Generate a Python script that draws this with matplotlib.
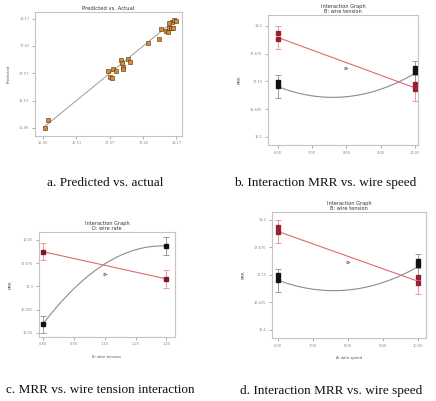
import numpy as np
import matplotlib
matplotlib.use("Agg")
import matplotlib.pyplot as plt

# a. predicted vs actual
actual = [15.98, 16.04, 17.04, 17.11, 17.16, 17.07, 17.10, 17.25, 17.27, 17.28, 17.29,
          17.37, 17.40, 17.70, 17.88, 17.91, 18.00, 18.03, 18.05, 18.08, 18.10, 18.13,
          18.17, 18.11, 18.04]
predicted = [15.96, 16.11, 17.11, 17.16, 17.12, 16.98, 16.97, 17.34, 17.28, 17.20, 17.15,
             17.36, 17.30, 17.67, 17.76, 17.96, 17.93, 17.91, 17.98, 17.99, 18.11, 18.15,
             18.13, 17.99, 18.08]
pa_ticks = [15.96, 16.51, 17.07, 17.62, 18.17]

# b / d. interaction, wire speed
speed_levels = [6.0, 8.0, 10.0]
speed_red_fit = [17.98, 17.51, 17.03]
speed_red_err = [0.22, 0.0, 0.25]
speed_red_pts_x = [6.0, 6.0, 10.0, 10.0]
speed_red_pts_y = [18.06, 17.96, 17.10, 17.00]
speed_blk_fit = [17.05, 16.86, 17.30]
speed_blk_err = [0.22, 0.0, 0.24]
speed_blk_pts_x = [6.0, 6.0, 10.0, 10.0]
speed_blk_pts_y = [17.14, 17.06, 17.41, 17.33]
speed_center = (8.0, 17.40)
speed_xticks = [6.0, 7.0, 8.0, 9.0, 10.0]
speed_yticks = [16.1, 16.625, 17.15, 17.675, 18.2]

# c. interaction, wire tension
tens_levels = [0.80, 1.10, 1.40]
tens_red_fit = [17.86, 17.64, 17.42]
tens_red_err = [0.14, 0.0, 0.14]
tens_blk_fit = [16.69, 17.66, 17.95]
tens_blk_err = [0.135, 0.0, 0.14]
tens_center = (1.10, 17.50)
tens_xticks = [0.80, 0.95, 1.10, 1.25, 1.40]
tens_yticks = [16.55, 16.925, 17.30, 17.675, 18.05]

fig = plt.figure(figsize=(4.36, 4.01), dpi=100)

tick_col = "#8a8a8a"
spine_col = "#c4c4c4"


def style(ax):
    for s in ax.spines.values():
        s.set_color(spine_col)
        s.set_linewidth(0.8)
    ax.tick_params(labelsize=2.6, colors=tick_col, length=2, width=0.5, pad=2)


def interaction(ax, lv, red, rerr, blk, berr, center, xt, yt, sub, xlab, xm, ym,
                red_pts=None, blk_pts=None):
    xs = np.linspace(lv[0], lv[-1], 100)
    # red line (linear), black curve (quadratic)
    ax.plot([lv[0], lv[-1]], [red[0], red[-1]], color="#e06a6a", lw=0.8)
    c = np.polyfit(lv, blk, 2)
    ax.plot(xs, np.polyval(c, xs), color="#8c8c8c", lw=0.8)
    for i in (0, 2):
        ax.errorbar(lv[i], red[i], yerr=rerr[i], color="#eb9a9a", lw=0.7, capsize=2.5, capthick=0.7)
        ax.errorbar(lv[i], blk[i], yerr=berr[i], color="#9a9a9a", lw=0.7, capsize=2.5, capthick=0.7)
    if red_pts is None:
        ax.plot([lv[0], lv[-1]], [red[0], red[-1]], "s", color="#7a1a2a", ms=2.4)
        ax.plot([lv[0], lv[-1]], [blk[0], blk[-1]], "s", color="#111111", ms=2.4)
    else:
        ax.plot(red_pts[0], red_pts[1], "s", color="#9a1f30", ms=2.5)
        ax.plot(blk_pts[0], blk_pts[1], "s", color="#111111", ms=2.5)
    ax.plot(center[0], center[1], ">", color="#555555", mfc="#e8c888", ms=2.2, mew=0.4)
    ax.set_xticks(xt)
    ax.set_xticklabels(["%.2f" % v for v in xt])
    ax.set_yticks(yt)
    ax.set_yticklabels([("%g" % v) for v in yt])
    xstep = xt[1] - xt[0]
    ystep = yt[1] - yt[0]
    ax.set_xlim(xt[0] - xm[0] * xstep, xt[-1] + xm[1] * xstep)
    ax.set_ylim(yt[0] - ym[0] * ystep, yt[-1] + ym[1] * ystep)
    ax.set_title("Interaction Graph\n" + sub, fontsize=3.6, color="#333333", pad=1.5, linespacing=1.0)
    ax.set_ylabel("MRR", fontsize=2.8, color="#555555", labelpad=6)
    if xlab:
        ax.set_xlabel(xlab, fontsize=2.8, color="#555555", labelpad=6)
    style(ax)


# panel a
ax1 = fig.add_axes([0.080, 0.661, 0.337, 0.309])
ax1.plot([pa_ticks[0], pa_ticks[-1]], [pa_ticks[0], pa_ticks[-1]], color="#9a9a9a", lw=0.7)
ax1.plot(actual, predicted, "s", color="#d98a2b", mec="#4a3015", mew=0.4, ms=2.6)
ax1.set_xticks(pa_ticks)
ax1.set_xticklabels(["%.2f" % v for v in pa_ticks])
ax1.set_yticks(pa_ticks)
ax1.set_yticklabels(["%.2f" % v for v in pa_ticks])
ax1.set_xlim(15.82, 18.26)
ax1.set_ylim(15.79, 18.31)
ax1.set_title("Predicted vs. Actual", fontsize=3.8, color="#333333", pad=1.5)
ax1.set_ylabel("Predicted", fontsize=2.8, color="#555555", labelpad=6)
style(ax1)

# panel b
ax2 = fig.add_axes([0.615, 0.638, 0.344, 0.325])
interaction(ax2, speed_levels, speed_red_fit, speed_red_err, speed_blk_fit, speed_blk_err,
            speed_center, speed_xticks, speed_yticks, "B: wire tension", None,
            (0.29, 0.10), (0.30, 0.40),
            (speed_red_pts_x, speed_red_pts_y), (speed_blk_pts_x, speed_blk_pts_y))

# panel c
ax3 = fig.add_axes([0.089, 0.160, 0.312, 0.261])
interaction(ax3, tens_levels, tens_red_fit, tens_red_err, tens_blk_fit, tens_blk_err,
            tens_center, tens_xticks, tens_yticks, "D: wire rate", "B: wire tension",
            (0.13, 0.27), (0.17, 0.33))

# panel d
ax4 = fig.add_axes([0.624, 0.157, 0.353, 0.314])
interaction(ax4, speed_levels, speed_red_fit, speed_red_err, speed_blk_fit, speed_blk_err,
            speed_center, speed_xticks, speed_yticks, "B: wire tension", "A: wire speed",
            (0.16, 0.24), (0.30, 0.28),
            (speed_red_pts_x, speed_red_pts_y), (speed_blk_pts_x, speed_blk_pts_y))

cap = dict(fontsize=9.5, family="Liberation Serif", color="#111111", ha="center", va="center")
fig.text(105 / 436, 1 - 183 / 401, "a. Predicted vs. actual", **cap)
fig.text(325 / 436, 1 - 183 / 401, "b. Interaction MRR vs. wire speed", **cap)
fig.text(100 / 436, 1 - 390 / 401, "c. MRR vs. wire tension interaction", **cap)
fig.text(331 / 436, 1 - 391 / 401, "d. Interaction MRR vs. wire speed", **cap)

fig.savefig("out.png", dpi=100)
